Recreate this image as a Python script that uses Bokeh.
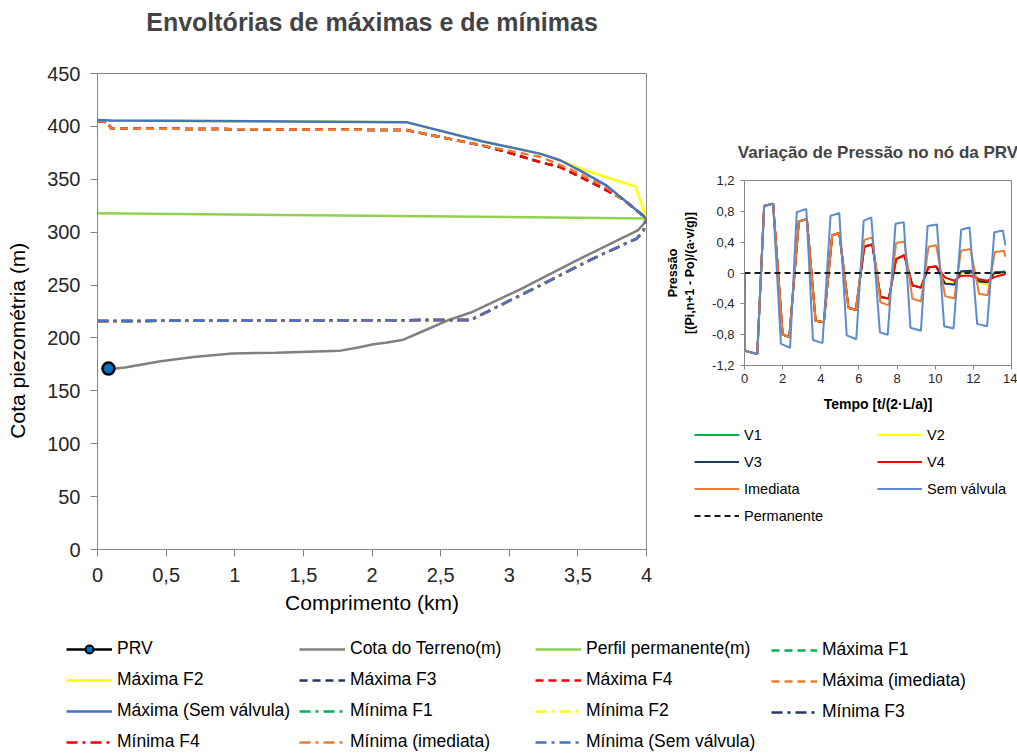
from bokeh.plotting import figure
from bokeh.models import Legend, CustomJSTickFormatter, FixedTicker, Spacer, Range1d, Title
from bokeh.layouts import row, column
from bokeh.embed import file_html
from bokeh.resources import INLINE

FONT = "Liberation Sans"

# ---------------- main chart data ----------------
prv_x = [0.08]
prv_y = [171]
terrain_x = [0.06, 0.08, 0.2, 0.46, 0.7, 0.98, 1.3, 1.77, 1.9, 2.01, 2.1, 2.22, 2.4, 2.56, 2.72, 3.08, 3.47, 3.94, 3.98, 4.0]
terrain_y = [170, 170.5, 172, 178, 182, 185.3, 186, 188, 191, 194, 195.5, 198, 208, 217, 224, 246, 272, 302, 308, 313]
perfil_x = [0, 4]
perfil_y = [318, 313]
max_sv_x = [0, 0.1, 2.25, 2.8, 3.23, 3.37, 3.52, 3.71, 4.0]
max_sv_y = [406, 405.5, 404, 386, 374, 368, 358, 344, 313]
max_im_x = [0, 0.07, 0.1, 2.25, 2.8, 3.23, 3.47, 3.71, 4.0]
max_im_y = [405, 404, 398, 396.5, 382, 371, 358, 342, 313]
max_f4_x = [0, 0.07, 0.1, 2.25, 2.8, 2.95, 3.23, 3.37, 3.52, 3.66, 3.82, 4.0]
max_f4_y = [405, 404, 398, 396.5, 382, 377, 366, 361.5, 352, 343, 332, 313]
max_f1_y = [405, 404, 398, 396.5, 382, 377, 366, 361.5, 352, 343, 332, 313]
max_f3_y = [405, 404, 398, 396.5, 382, 377, 366, 361.5, 352, 343, 332, 313]
max_f2_x = [0, 0.1, 2.25, 2.8, 3.23, 3.37, 3.54, 3.92, 4.0]
max_f2_y = [406, 405.5, 404, 386, 374, 368, 359, 343, 313]
min_x = [0, 2.72, 3.2, 3.61, 3.93, 3.98, 4.0]
min_sv_y = [216, 217, 248, 275, 294, 302, 313]
min_f1_y = [216, 217, 248, 275, 294, 302, 313]
min_f2_y = [216, 217, 248, 275, 294, 302, 313]
min_f3_y = [216, 217, 248, 275, 294, 302, 313]
min_f4_y = [216, 217, 248, 275, 294, 302, 313]
min_im_y = [216, 217, 248, 275, 294, 302, 313]

main_x_ticks = [0, 0.5, 1, 1.5, 2, 2.5, 3, 3.5, 4]
main_y_ticks = [0, 50, 100, 150, 200, 250, 300, 350, 400, 450]

# ---------------- inset data ----------------
sv_t = [0, 0.03, 0.67, 1.03, 1.5, 1.91, 2.39, 2.74, 3.24, 3.59, 4.09, 4.51, 4.97, 5.36, 5.86, 6.25, 6.65,
        7.1, 7.51, 7.92, 8.35, 8.7, 9.25, 9.6, 10.09, 10.47, 10.96, 11.36, 11.8, 12.2, 12.72, 13.1, 13.55, 13.68]
sv_v = [0, -1.01, -1.05, 0.87, 0.90, -0.92, -0.97, 0.79, 0.83, -0.87, -0.91, 0.74, 0.78, -0.81, -0.86, 0.68, 0.72,
        -0.77, -0.80, 0.64, 0.66, -0.71, -0.75, 0.61, 0.63, -0.69, -0.72, 0.56, 0.59, -0.66, -0.69, 0.53, 0.55, 0.36]
v_t = [0, 0.03, 0.67, 1.03, 1.5, 2.0, 2.35, 2.85, 3.27, 3.73, 4.16, 4.6, 4.97, 5.45, 5.84, 6.28, 6.7,
       7.13, 7.57, 7.95, 8.38, 8.8, 9.25, 9.65, 10.05, 10.52, 11.0, 11.35, 11.85, 12.3, 12.75, 13.12, 13.6, 13.68]
im_v = [0, -1.01, -1.05, 0.87, 0.90, -0.80, -0.83, 0.67, 0.70, -0.62, -0.64, 0.49, 0.52, -0.45, -0.48, 0.43, 0.46,
        -0.38, -0.42, 0.39, 0.41, -0.33, -0.37, 0.34, 0.36, -0.30, -0.33, 0.29, 0.31, -0.27, -0.29, 0.27, 0.29, 0.21]
v4_v = [0, -1.01, -1.05, 0.87, 0.90, -0.80, -0.83, 0.67, 0.70, -0.62, -0.64, 0.49, 0.52, -0.45, -0.48, 0.34, 0.37,
        -0.31, -0.33, 0.18, 0.23, -0.16, -0.19, 0.075, 0.085, -0.06, -0.10, -0.035, -0.035, -0.08, -0.10, -0.05, -0.02, -0.02]
v1_v = [0, -1.01, -1.05, 0.87, 0.90, -0.80, -0.83, 0.67, 0.70, -0.62, -0.64, 0.49, 0.52, -0.45, -0.48, 0.34, 0.37,
        -0.31, -0.33, 0.18, 0.23, -0.16, -0.19, 0.075, 0.085, -0.13, -0.15, 0.02, 0.03, -0.10, -0.12, 0.0, 0.02, 0.02]
v3_v = [0, -1.01, -1.05, 0.87, 0.90, -0.80, -0.83, 0.67, 0.70, -0.62, -0.64, 0.49, 0.52, -0.45, -0.48, 0.34, 0.37,
        -0.31, -0.33, 0.18, 0.23, -0.16, -0.19, 0.075, 0.085, -0.14, -0.15, 0.02, 0.03, -0.11, -0.12, 0.01, 0.01, 0.01]
v2_v = [0, -1.01, -1.05, 0.87, 0.90, -0.80, -0.83, 0.67, 0.70, -0.62, -0.64, 0.49, 0.52, -0.45, -0.48, 0.34, 0.37,
        -0.31, -0.33, 0.18, 0.23, -0.16, -0.19, 0.075, 0.085, -0.12, -0.14, 0.0, 0.02, -0.12, -0.15, -0.01, 0.0, 0.0]
perm_t = [0, 13.7]
perm_v = [0, 0]
inset_x_ticks = [0, 2, 4, 6, 8, 10, 12, 14]
inset_y_ticks = [-1.2, -0.8, -0.4, 0, 0.4, 0.8, 1.2]

# colours
C_GRAY = "#808080"
C_LGREEN = "#92D050"
C_GREEN = "#00B050"
C_YELLOW = "#FFFF00"
C_NAVY = "#203864"
C_RED = "#FF0000"
C_ORANGE = "#ED7D31"
C_BLUE = "#4472C4"
C_IBLUE = "#5B8BD0"
AX = "#868686"
DASH = "8 5"
DASHDOT = "11 5 3 5"

fmt = CustomJSTickFormatter(code="var v = Math.round(tick*10)/10; return v.toString().replace('.', ',');")


def style_axes(p, tick_size, label_size, label_style):
    for ax in p.axis:
        ax.axis_line_color = AX
        ax.major_tick_line_color = AX
        ax.minor_tick_line_color = None
        ax.major_tick_in = 0
        ax.major_label_text_font = FONT
        ax.major_label_text_font_size = tick_size
        ax.major_label_text_color = "#262626"
        ax.axis_label_text_font = FONT
        ax.axis_label_text_font_size = label_size
        ax.axis_label_text_font_style = label_style
        ax.axis_label_text_color = "#000000"
        ax.formatter = fmt
    p.grid.visible = False
    p.outline_line_color = AX


# ---------------- main figure ----------------
main = figure(width=662, height=630, x_range=Range1d(0, 4), y_range=Range1d(0, 450),
              output_backend="svg", toolbar_location=None,
              min_border_left=97, min_border_right=16, min_border_top=73, min_border_bottom=81,
              title="Envoltórias de máximas e de mínimas")
main.title.align = "center"
main.title.text_font = FONT
main.title.text_font_size = "25px"
main.title.text_font_style = "bold"
main.title.standoff = 4
main.add_layout(Title(text=" ", text_font_size="1px", standoff=33), "above")
main.xaxis.ticker = FixedTicker(ticks=main_x_ticks)
main.yaxis.ticker = FixedTicker(ticks=main_y_ticks)
main.xaxis.axis_label = "Comprimento (km)"
main.yaxis.axis_label = "Cota piezométria (m)" + "\u00a0" * 10
style_axes(main, "20px", "21px", "normal")
main.xaxis.major_tick_out = 7
main.yaxis.major_tick_out = 7
main.yaxis.major_label_standoff = 10
main.yaxis.axis_label_standoff = 15
main.xaxis.major_label_standoff = 11
main.xaxis.axis_label_standoff = 6

LW = 2.5
main.line(terrain_x, terrain_y, line_color=C_GRAY, line_width=LW)
main.line(perfil_x, perfil_y, line_color=C_LGREEN, line_width=LW)
main.line(max_f4_x, max_f1_y, line_color=C_GREEN, line_width=LW, line_dash=DASH)
main.line(max_f2_x, max_f2_y, line_color=C_YELLOW, line_width=LW)
main.line(max_f4_x, max_f3_y, line_color=C_NAVY, line_width=LW, line_dash=DASH)
main.line(max_f4_x, max_f4_y, line_color=C_RED, line_width=LW, line_dash=DASH)
main.line(max_im_x, max_im_y, line_color=C_ORANGE, line_width=LW, line_dash=DASH)
main.line(max_sv_x, max_sv_y, line_color=C_BLUE, line_width=LW)
main.line(min_x, min_f1_y, line_color=C_GREEN, line_width=LW, line_dash=DASHDOT)
main.line(min_x, min_f2_y, line_color=C_YELLOW, line_width=LW, line_dash=DASHDOT)
main.line(min_x, min_f3_y, line_color=C_NAVY, line_width=LW, line_dash=DASHDOT)
main.line(min_x, min_f4_y, line_color=C_RED, line_width=LW, line_dash=DASHDOT)
main.line(min_x, min_im_y, line_color=C_ORANGE, line_width=LW, line_dash=DASHDOT)
main.line(min_x, min_sv_y, line_color=C_BLUE, line_width=LW, line_dash=DASHDOT)
main.line(prv_x, prv_y, line_color="black", line_width=LW)
main.scatter(prv_x, prv_y, marker="circle", size=12, fill_color="#0070C0", line_color="black", line_width=2.5)

# ---------------- inset figure ----------------
ins = figure(width=355, height=285, x_range=Range1d(0, 14), y_range=Range1d(-1.2, 1.2),
             output_backend="svg", toolbar_location=None,
             min_border_left=82, min_border_right=6, min_border_top=45, min_border_bottom=55,
             title="Variação de Pressão no nó da PRV")
ins.title.align = "center"
ins.title.text_font = FONT
ins.title.text_font_size = "17px"
ins.title.text_font_style = "bold"
ins.title.standoff = 4
ins.add_layout(Title(text=" ", text_font_size="1px", standoff=14), "above")
ins.xaxis.ticker = FixedTicker(ticks=inset_x_ticks)
ins.yaxis.ticker = FixedTicker(ticks=inset_y_ticks)
ins.xaxis.axis_label = "Tempo [t/(2·L/a)]"
ins.yaxis.axis_label = "Pressão\n[(Pi,n+1 - Po)/(a·v/g)]"
style_axes(ins, "13px", "12.5px", "bold")
ins.xaxis.axis_label_text_font_size = "14px"
ins.xaxis.major_tick_out = 4
ins.yaxis.major_tick_out = 4
ins.yaxis.major_label_standoff = 6
ins.yaxis.axis_label_standoff = 12
ins.xaxis.major_label_standoff = 4
ins.xaxis.axis_label_standoff = 10

ILW = 2
ins.line(v_t, v1_v, line_color=C_GREEN, line_width=ILW)
ins.line(v_t, v2_v, line_color=C_YELLOW, line_width=ILW)
ins.line(v_t, v3_v, line_color=C_NAVY, line_width=ILW)
ins.line(v_t, v4_v, line_color=C_RED, line_width=ILW)
ins.line(v_t, im_v, line_color=C_ORANGE, line_width=ILW)
ins.line(sv_t, sv_v, line_color=C_IBLUE, line_width=ILW)
ins.line(perm_t, perm_v, line_color="#1a1a1a", line_width=ILW, line_dash="6 4")


# ---------------- legends ----------------
def legend_fig(w, h):
    f = figure(width=w, height=h, x_range=Range1d(0, 1), y_range=Range1d(0, 1),
               x_axis_type=None, y_axis_type=None, output_backend="svg", toolbar_location=None,
               min_border=0, min_border_left=0, min_border_right=0, min_border_top=0, min_border_bottom=0)
    f.outline_line_color = None
    return f


def add_legend(f, items, x, y, font_size, gw, gh, spacing):
    lg = Legend(items=items, location=(x, y), orientation="vertical",
                glyph_width=gw, glyph_height=gh, label_height=gh, spacing=spacing,
                label_standoff=5, padding=0, margin=0,
                border_line_color=None, background_fill_alpha=0,
                label_text_font=FONT, label_text_font_size=font_size, label_text_color="#000000")
    f.add_layout(lg)


def dl(f, color, dash="solid", width=2.5):
    return f.line([-1, -2], [-1, -2], line_color=color, line_width=width, line_dash=dash)


ileg = legend_fig(355, 110)
icol1 = [("V1", [dl(ileg, C_GREEN, width=2)]), ("V3", [dl(ileg, C_NAVY, width=2)]),
         ("Imediata", [dl(ileg, C_ORANGE, width=2)]), ("Permanente", [dl(ileg, "#1a1a1a", "6 4", 2)])]
icol2 = [("V2", [dl(ileg, C_YELLOW, width=2)]), ("V4", [dl(ileg, C_RED, width=2)]),
         ("Sem válvula", [dl(ileg, C_IBLUE, width=2)])]
add_legend(ileg, icol1, 32, 6, "14.5px", 45, 17, 10)
add_legend(ileg, icol2, 215, 33, "14.5px", 45, 17, 10)

leg = legend_fig(1017, 125)
r_prv_l = dl(leg, "black")
r_prv_m = leg.scatter([-1], [-1], marker="circle", size=11, fill_color="#0070C0", line_color="black", line_width=2)
col1 = [("PRV", [r_prv_l, r_prv_m]), ("Máxima F2", [dl(leg, C_YELLOW)]),
        ("Máxima (Sem válvula)", [dl(leg, C_BLUE)]), ("Mínima F4", [dl(leg, C_RED, DASHDOT)])]
col2 = [("Cota do Terreno(m)", [dl(leg, C_GRAY)]), ("Máxima F3", [dl(leg, C_NAVY, DASH)]),
        ("Mínima F1", [dl(leg, C_GREEN, DASHDOT)]), ("Mínima (imediata)", [dl(leg, C_ORANGE, DASHDOT)])]
col3 = [("Perfil permanente(m)", [dl(leg, C_LGREEN)]), ("Máxima F4", [dl(leg, C_RED, DASH)]),
        ("Mínima F2", [dl(leg, C_YELLOW, DASHDOT)]), ("Mínima (Sem válvula)", [dl(leg, C_BLUE, DASHDOT)])]
col4 = [("Máxima F1", [dl(leg, C_GREEN, DASH)]), ("Máxima (imediata)", [dl(leg, C_ORANGE, DASH)]),
        ("Mínima F3", [dl(leg, C_NAVY, DASHDOT)])]
add_legend(leg, col1, 66, 3, "17.5px", 46, 20, 10)
add_legend(leg, col2, 299, 3, "17.5px", 46, 20, 10)
add_legend(leg, col3, 535, 3, "17.5px", 46, 20, 10)
add_legend(leg, col4, 771, 33, "17.5px", 46, 20, 10)

right = column(Spacer(width=355, height=135), ins, row(ileg))
layout = column(row(main, right), leg)

open("out.html", "w").write(file_html(layout, INLINE))
